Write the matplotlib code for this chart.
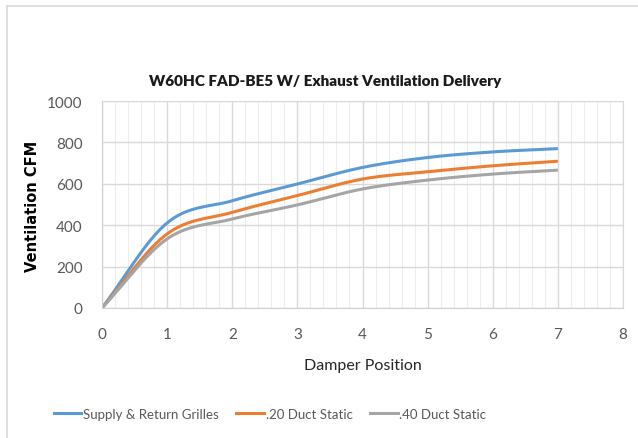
import numpy as np
import matplotlib.pyplot as plt
from matplotlib.ticker import MultipleLocator
from matplotlib.lines import Line2D

damper = [0, 1, 2, 3, 4, 5, 6, 7]
supply_return = [0, 411, 518, 599, 679, 727, 754, 770]
duct_20 = [0, 358, 462, 543, 623, 658, 687, 709]
duct_40 = [0, 334, 430, 498, 575, 618, 647, 666]

labels = ["Supply & Return Grilles", ".20 Duct Static", ".40 Duct Static"]
colors = ["#5B9BD5", "#ED7D31", "#A5A5A5"]


def smooth(x, y, n=30):
    # catmull-rom style smoothing like the spreadsheet's smoothed lines
    x = np.asarray(x, float)
    y = np.asarray(y, float)
    px = np.concatenate(([2 * x[0] - x[1]], x, [2 * x[-1] - x[-2]]))
    py = np.concatenate(([2 * y[0] - y[1]], y, [2 * y[-1] - y[-2]]))
    xs, ys = [], []
    t = np.linspace(0, 1, n)
    for i in range(1, len(px) - 2):
        mx0 = (px[i + 1] - px[i - 1]) / 2
        mx1 = (px[i + 2] - px[i]) / 2
        my0 = (py[i + 1] - py[i - 1]) / 2
        my1 = (py[i + 2] - py[i]) / 2
        h00 = 2 * t**3 - 3 * t**2 + 1
        h10 = t**3 - 2 * t**2 + t
        h01 = -2 * t**3 + 3 * t**2
        h11 = t**3 - t**2
        xs.append(h00 * px[i] + h10 * mx0 + h01 * px[i + 1] + h11 * mx1)
        ys.append(h00 * py[i] + h10 * my0 + h01 * py[i + 1] + h11 * my1)
    return np.concatenate(xs), np.concatenate(ys)


plt.rcParams['font.family'] = ['Lato', 'DejaVu Sans']

fig = plt.figure(figsize=(6.38, 4.39), dpi=100)
ax = fig.add_axes([102 / 638, 1 - 309 / 439, 521 / 638, 207 / 439])

for ys, c, lab in zip([supply_return, duct_20, duct_40], colors, labels):
    sx, sy = smooth(damper, ys)
    ax.plot(sx, sy, color=c, linewidth=2.2, label=lab, solid_capstyle='butt')

ax.set_xlim(0, 8)
ax.set_ylim(0, 1000)
ax.xaxis.set_major_locator(MultipleLocator(1))
ax.xaxis.set_minor_locator(MultipleLocator(0.2))
ax.yaxis.set_major_locator(MultipleLocator(200))
ax.grid(which='major', color='#D9D9D9', linewidth=1.0)
ax.grid(which='minor', axis='x', color='#EDEDED', linewidth=0.8)
ax.set_axisbelow(True)
for s in ['top', 'right']:
    ax.spines[s].set_color('#D9D9D9')
for s in ['left', 'bottom']:
    ax.spines[s].set_color('#D0D0D0')
ax.tick_params(which='both', length=0, colors='#595959', labelsize=11)
ax.tick_params(axis='x', pad=14)
ax.tick_params(axis='y', pad=14)

ax.set_xlabel("Damper Position", fontsize=11.5, color='#262626', labelpad=12)
ax.set_ylabel("Ventilation CFM", fontsize=10.5, color='#000000', fontweight='bold',
              family=['DejaVu Sans'])
ax.yaxis.set_label_coords(-0.119, 0.495)

fig.text(325 / 638, 1 - 81 / 439, "W60HC FAD-BE5 W/ Exhaust Ventilation Delivery",
         ha='center', va='center', fontsize=11, fontweight='heavy', color='#1a1a1a')

handles = [Line2D([0], [0], color=c, linewidth=2.2) for c in colors]
fig.legend(handles, labels, loc='center', bbox_to_anchor=(270 / 638, 1 - 415 / 439),
           ncol=3, frameon=False, fontsize=9.5, handlelength=2.1,
           columnspacing=1.3, handletextpad=0.15, labelcolor='#595959')

# chart area border (top and left visible)
fig.add_artist(Line2D([6.5 / 638, 1], [1 - 6.5 / 439, 1 - 6.5 / 439],
                      color='#D9D9D9', linewidth=1.2, transform=fig.transFigure))
fig.add_artist(Line2D([6.5 / 638, 6.5 / 638], [0, 1 - 6.5 / 439],
                      color='#D9D9D9', linewidth=1.2, transform=fig.transFigure))

fig.savefig("out.png", dpi=100)
